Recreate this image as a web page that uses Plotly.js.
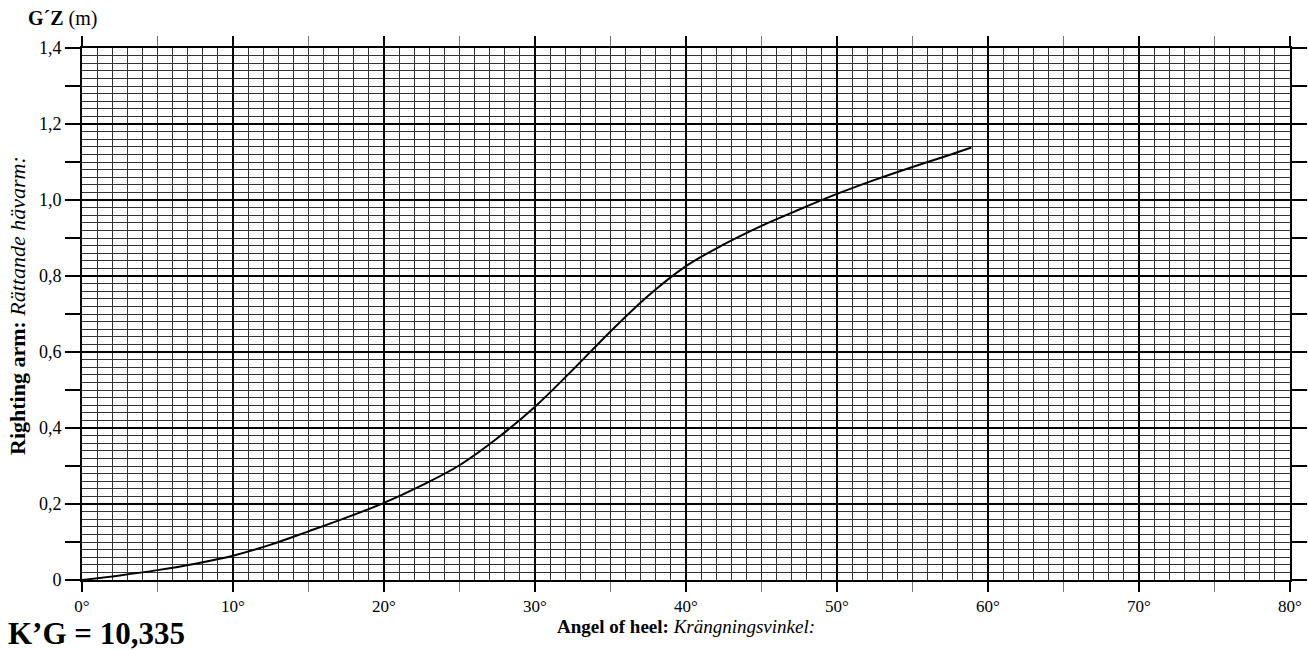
<!DOCTYPE html>
<html>
<head>
<meta charset="utf-8">
<script src="https://cdn.plot.ly/plotly-3.0.1.min.js"></script>
<style>html,body{margin:0;padding:0;background:#fff;}#chart{width:1308px;height:650px;}</style>
</head>
<body>
<div id="chart"></div>
<script>
// Righting arm curve (GZ, metres) against angle of heel (degrees)
const heelDeg = [0, 2.5, 5, 7.5, 10, 12.5, 15, 17.5, 20, 22.5, 25, 27.5, 30, 32.5, 35, 37.5, 40, 42.5, 45, 47.5, 50, 52.5, 55, 57.5, 58.9];
const gzMetres = [0, 0.012, 0.026, 0.043, 0.064, 0.093, 0.128, 0.164, 0.203, 0.249, 0.302, 0.373, 0.456, 0.553, 0.654, 0.748, 0.826, 0.883, 0.932, 0.975, 1.016, 1.053, 1.087, 1.119, 1.138];

const xMajorVals = [0, 10, 20, 30, 40, 50, 60, 70, 80];
const xMajorText = ["0°", "10°", "20°", "30°", "40°", "50°", "60°", "70°", "80°"];
const xHalfVals = [5, 15, 25, 35, 45, 55, 65, 75];
const yMajorVals = [0, 0.2, 0.4, 0.6, 0.8, 1.0, 1.2, 1.4];
const yMajorText = ["0", "0,2", "0,4", "0,6", "0,8", "1,0", "1,2", "1,4"];
const yHalfVals = [0.1, 0.3, 0.5, 0.7, 0.9, 1.1, 1.3];

const yTitleText = "<b>Righting arm:</b> <i>Rättande hävarm:</i>";
const xTitleText = "<b>Angel of heel:</b> <i>Krängningsvinkel:</i>";
const unitLabel = "<b>G´Z</b> (m)";
const kgLabel = "<b>K’G = 10,335</b>";

const FONT = "Liberation Serif";

const traces = [
  {
    x: heelDeg, y: gzMetres, type: "scatter", mode: "lines",
    line: {color: "#000", width: 2, shape: "spline", smoothing: 1},
    hoverinfo: "x+y", showlegend: false
  },
  {
    x: [0, 80], y: [0, 1.4], xaxis: "x2", yaxis: "y2", type: "scatter", mode: "markers",
    marker: {opacity: 0}, hoverinfo: "skip", showlegend: false
  }
];

const layout = {
  width: 1308, height: 650,
  margin: {l: 82, r: 18, t: 48, b: 70},
  paper_bgcolor: "#fff", plot_bgcolor: "#fff",
  font: {family: FONT, size: 18, color: "#000"},
  showlegend: false,
  xaxis: {
    range: [0, 80], tickmode: "array", tickvals: xMajorVals, ticktext: xMajorText,
    ticks: "outside", ticklen: 10, tickwidth: 2, tickcolor: "#000",
    showgrid: true, gridcolor: "#000", gridwidth: 2,
    showline: true, linecolor: "#000", linewidth: 2, mirror: "ticks",
    zeroline: false, fixedrange: true,
    tickfont: {family: FONT, size: 17, color: "#000"},
    minor: {dtick: 1, tick0: 0, showgrid: true, gridcolor: "#333", gridwidth: 1, ticks: ""}
  },
  yaxis: {
    range: [0, 1.4], tickmode: "array", tickvals: yMajorVals, ticktext: yMajorText,
    ticks: "outside", ticklen: 15, tickwidth: 2, tickcolor: "#000",
    showgrid: true, gridcolor: "#000", gridwidth: 2,
    showline: true, linecolor: "#000", linewidth: 2, mirror: "ticks",
    zeroline: false, fixedrange: true,
    tickfont: {family: FONT, size: 18, color: "#000"},
    minor: {dtick: 0.02, tick0: 0, showgrid: true, gridcolor: "#333", gridwidth: 1, ticks: ""}
  },
  xaxis2: {
    overlaying: "x", anchor: "y2", side: "bottom", range: [0, 80],
    tickmode: "array", tickvals: xHalfVals, showticklabels: false,
    ticks: "outside", ticklen: 10, tickwidth: 1.5, tickcolor: "#777",
    showgrid: false, zeroline: false, showline: true, linecolor: "#000", linewidth: 2, mirror: "ticks",
    fixedrange: true
  },
  yaxis2: {
    overlaying: "y", anchor: "x2", side: "left", range: [0, 1.4],
    tickmode: "array", tickvals: yHalfVals, showticklabels: false,
    ticks: "outside", ticklen: 15, tickwidth: 1.2, tickcolor: "#000",
    showgrid: false, zeroline: false, showline: true, linecolor: "#000", linewidth: 2, mirror: "ticks",
    fixedrange: true
  },
  annotations: [
    {text: yTitleText, xref: "paper", yref: "paper", x: 0, y: 0.5, xanchor: "center", yanchor: "middle",
     xshift: -65, yshift: 8, textangle: -90, showarrow: false, font: {family: FONT, size: 22, color: "#000"}},
    {text: xTitleText, xref: "paper", yref: "paper", x: 0.5, y: 0, xanchor: "center", yanchor: "middle",
     yshift: -46, showarrow: false, font: {family: FONT, size: 19, color: "#000"}},
    {text: unitLabel, xref: "paper", yref: "paper", x: 0, y: 1, xanchor: "left", yanchor: "middle",
     xshift: -56, yshift: 30, showarrow: false, font: {family: FONT, size: 20, color: "#000"}},
    {text: kgLabel, xref: "paper", yref: "paper", x: 0, y: 0, xanchor: "left", yanchor: "middle",
     xshift: -76, yshift: -53, showarrow: false, font: {family: FONT, size: 31, color: "#000"}}
  ]
};

Plotly.newPlot("chart", traces, layout, {staticPlot: true, displayModeBar: false});
</script>
</body>
</html>
